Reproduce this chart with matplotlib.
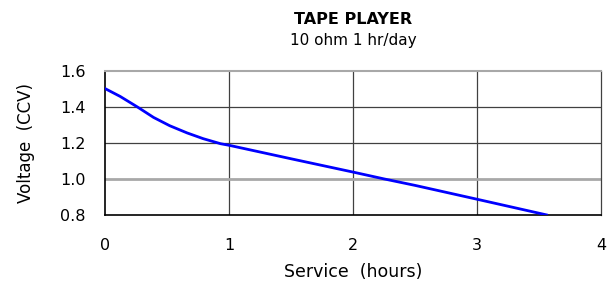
import matplotlib
matplotlib.use("Agg")
import matplotlib.pyplot as plt

# service hours vs closed-circuit voltage
hours = [0.0, 0.12, 0.26, 0.39, 0.52, 0.66, 0.79, 0.93, 1.0, 1.5, 2.0, 2.25, 2.5, 3.0, 3.56]
volts = [1.502, 1.459, 1.40, 1.342, 1.296, 1.256, 1.224, 1.196, 1.187,
         1.112, 1.038, 1.0, 0.964, 0.887, 0.80]

x_ticks = [0, 1, 2, 3, 4]
y_ticks = [0.8, 1.0, 1.2, 1.4, 1.6]

plt.rcParams["font.family"] = ["DejaVu Sans"]

fig = plt.figure(figsize=(6.12, 2.82), dpi=100)
ax = fig.add_axes([0.172, 0.238, 0.81, 0.51])

ax.plot(hours, volts, color="#0000FF", lw=2.0, zorder=3)

ax.set_xlim(0, 4)
ax.set_ylim(0.8, 1.6)
ax.set_xticks(x_ticks)
ax.set_yticks(y_ticks)
ax.set_yticklabels([f"{v:.1f}" for v in y_ticks])
ax.tick_params(length=0, labelsize=11.5)
ax.tick_params(axis="y", pad=14)
ax.tick_params(axis="x", pad=17)

for v in [1.2, 1.4]:
    ax.axhline(v, color="#404040", lw=0.9, zorder=1)
for v in [1, 2, 3]:
    ax.axvline(v, color="#404040", lw=0.9, zorder=1)
ax.axhline(1.0, color="#A8A8A8", lw=2.0, zorder=1)

ax.spines["top"].set_color("#A8A8A8")
ax.spines["top"].set_linewidth(1.5)
ax.spines["right"].set_color("#404040")
ax.spines["right"].set_linewidth(0.9)
ax.spines["left"].set_color("black")
ax.spines["bottom"].set_color("black")
ax.spines["left"].set_linewidth(1.2)
ax.spines["bottom"].set_linewidth(1.2)

ax.set_xlabel("Service  (hours)", fontsize=12.5, labelpad=7)
ax.set_ylabel("Voltage  (CCV)", fontsize=12, labelpad=18)

fig.text(0.577, 0.932, "TAPE PLAYER", ha="center", va="center", fontsize=11.5, fontweight="bold")
fig.text(0.577, 0.855, "10 ohm 1 hr/day", ha="center", va="center", fontsize=11)

fig.savefig("out.png", dpi=100)
